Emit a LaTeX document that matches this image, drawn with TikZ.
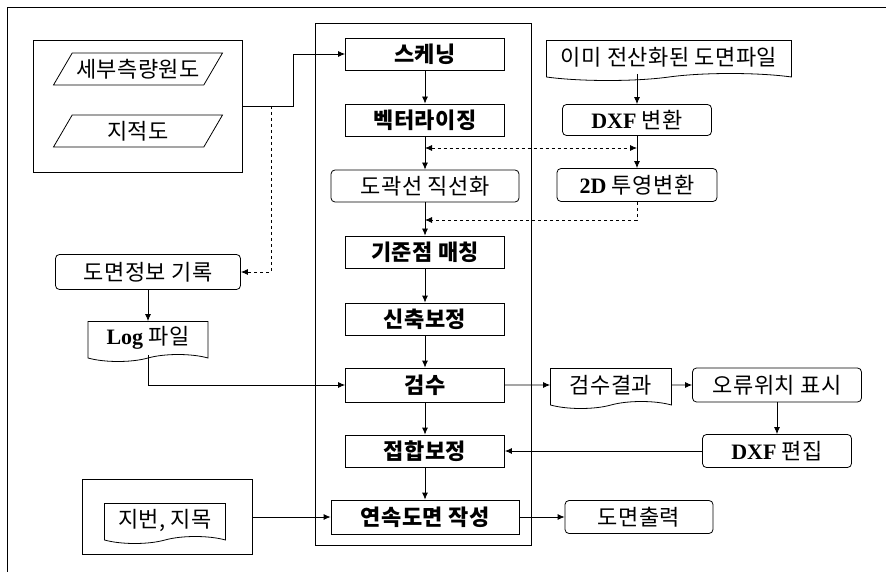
\documentclass[tikz,border=0pt]{standalone}
\usepackage{fontspec}
\setmainfont{Liberation Serif}
\newfontfamily\kr{Noto Sans CJK KR}[LetterSpace=2]
\newcommand{\ltn}[1]{{\rmfamily\bfseries\fontsize{22pt}{24pt}\selectfont #1}}
\usetikzlibrary{arrows.meta,shapes.geometric,shapes.symbols}
\begin{document}
\begin{tikzpicture}[
      x = 1pt, y = -1pt,
      line width = 0.8pt,
      >= {Latex[length=7pt,width=6pt]},
      every node/.style = {font=\kr\fontsize{22pt}{24pt}\selectfont, align=center, inner sep=2pt},
      stepbox/.style = {draw, rectangle, minimum width=159pt, minimum height=32pt,
                        font=\kr\bfseries\fontsize{22pt}{24pt}\selectfont},
      roundbox/.style = {draw, rectangle, rounded corners=4pt, minimum height=33pt},
      docbox/.style = {draw, tape, tape bend top=none, tape bend height=7pt, minimum height=40pt},
      sheet/.style = {draw, trapezium, trapezium left angle=52, trapezium right angle=128,
                      trapezium stretches body, minimum width=169pt, minimum height=32pt, inner xsep=-12pt},
      dashline/.style = {dashed}
      ]
      \useasboundingbox (0,0) rectangle (886,572);
      \draw (7,572) -- (7,7) -- (886,7);

      % input drawings
      \node[draw, minimum width=209pt, minimum height=132pt] (src) at (138,106) {};
      \node[sheet] (detail) at (138,69) {세부측량원도};
      \node[sheet] (cadas) at (138,131) {지적도};

      % main process
      \node[draw, minimum width=216pt, minimum height=522pt] (core) at (423,284) {};
      \node[stepbox] (scan) at (425,54) {스케닝};
      \node[stepbox] (vect) at (425,120) {벡터라이징};
      \node[roundbox, minimum width=188pt, minimum height=32pt] (line) at (425,186) {도곽선 직선화};
      \node[stepbox] (match) at (425,252) {기준점 매칭};
      \node[stepbox] (scale) at (425,319) {신축보정};
      \node[stepbox, minimum height=34pt] (check) at (425,385) {검수};
      \node[stepbox] (join) at (425,451) {접합보정};
      \node[stepbox, minimum width=188pt, minimum height=34pt] (cont) at (425,517) {연속도면 작성};

      % digital drawings
      \node[docbox, minimum width=245pt] (digit) at (669,57) {이미 전산화된 도면파일};
      \node[roundbox, minimum width=149pt, minimum height=31pt] (dxf) at (637,120) {\ltn{DXF} 변환};
      \node[roundbox, minimum width=160pt] (proj) at (637,185) {\ltn{2D} 투영변환};

      % inspection and output
      \node[docbox, minimum width=121pt] (result) at (611,385) {검수결과};
      \node[roundbox, minimum width=169pt, minimum height=34pt] (error) at (777,385) {오류위치 표시};
      \node[roundbox, minimum width=149pt] (edit) at (777,451) {\ltn{DXF} 편집};
      \node[roundbox, minimum width=148pt] (output) at (639,517) {도면출력};

      % records
      \node[roundbox, minimum width=185pt, minimum height=35pt] (info) at (148,272) {도면정보 기록};
      \node[docbox, minimum width=120pt] (log) at (148,338) {\ltn{Log} 파일};
      \node[draw, minimum width=170pt, minimum height=75pt] (lot) at (167,517) {};
      \node[docbox, minimum width=121pt] (parcel) at (165,520) {지번, 지목};

      \coordinate (tap) at (271,106);
      \coordinate (v1) at (425,148);
      \coordinate (v2) at (637,148);
      \coordinate (v3) at (425,220);

      \draw[->] (src.east) -- ++(50,0) |- (scan.west);
      \draw[dashline, ->] (tap) |- (info.east);
      \draw[->] (scan) -- (vect);
      \draw[->] (vect) -- (line);
      \draw[->] (dxf.north |- digit.south) -- (dxf.north);
      \draw[->] (dxf) -- (proj);
      \draw[dashline, <->] (v1) -- (v2);
      \draw[dashline, ->] (proj.south) |- (v3);
      \draw[->] (line) -- (match);
      \draw[->] (match) -- (scale);
      \draw[->] (scale) -- (check);
      \draw[->] (check) -- (join);
      \draw[->] (join) -- (cont);
      \draw[->] (info) -- (log);
      \draw[->] (log.south) |- (check.west);
      \draw[->] (check) -- (result);
      \draw[->] (result) -- (error);
      \draw[->] (error) -- (edit);
      \draw[->] (edit) -- (join);
      \draw[->] (lot) -- (cont);
      \draw[->] (cont) -- (output);
\end{tikzpicture}
\end{document}
